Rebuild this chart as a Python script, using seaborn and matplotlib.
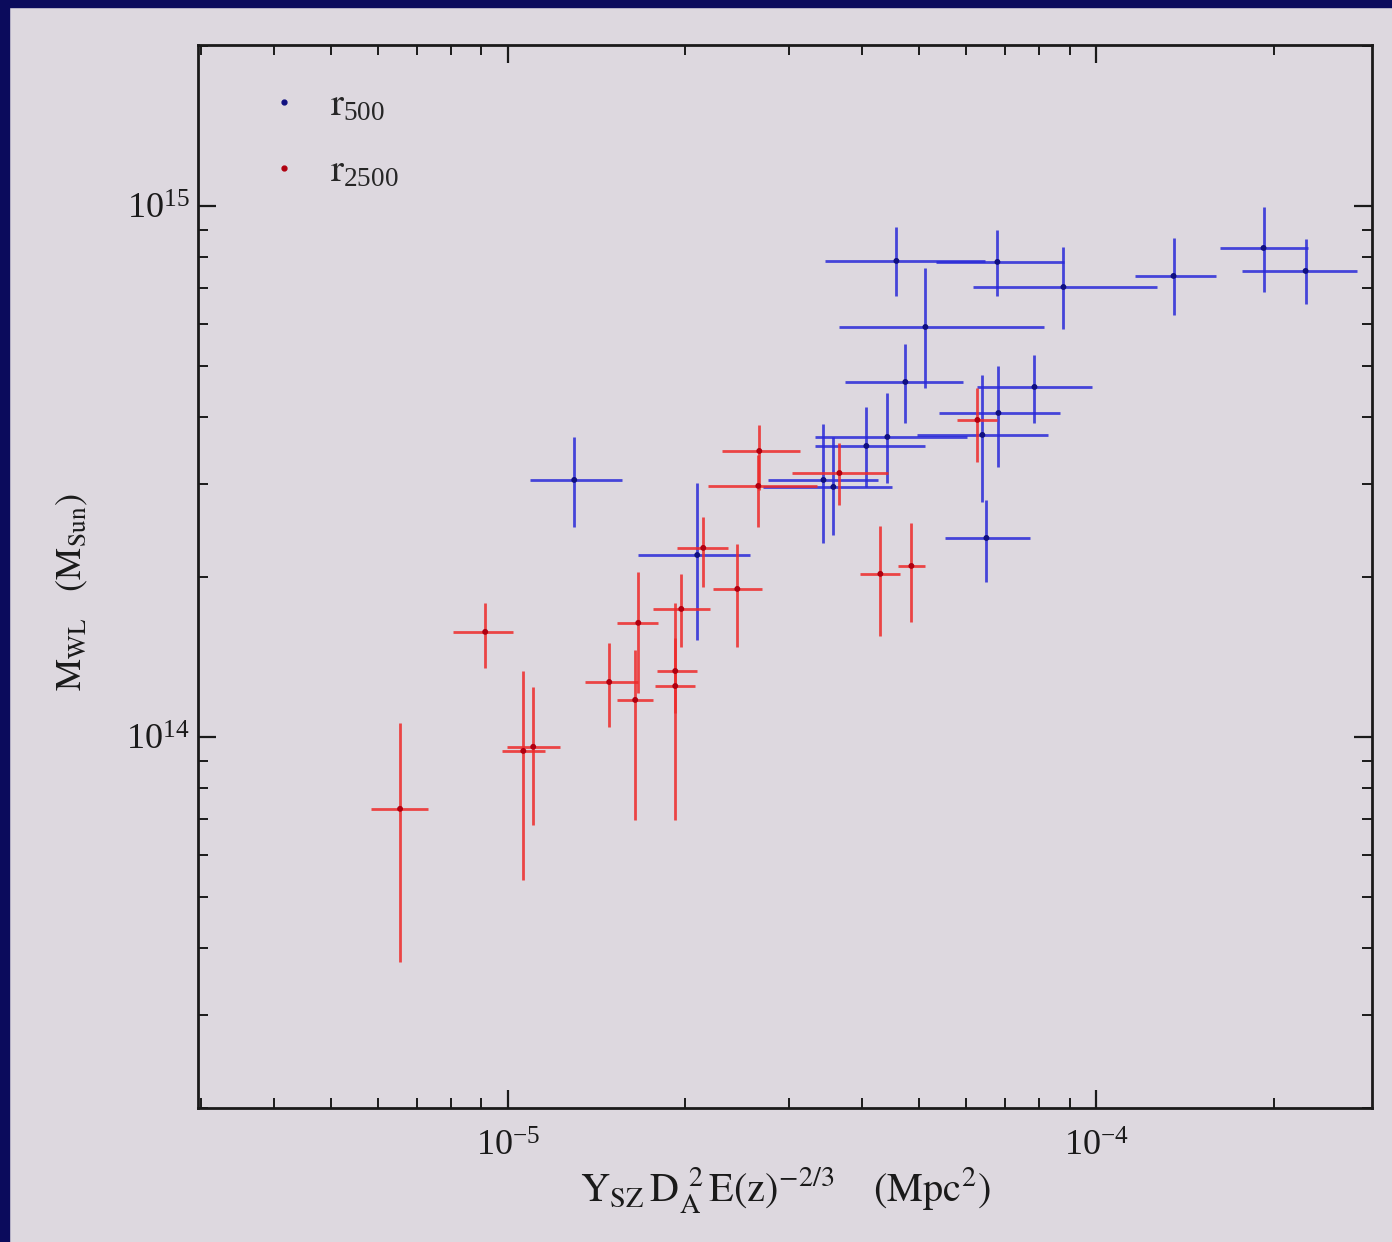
import numpy as np
import pandas as pd
import matplotlib
matplotlib.use("Agg")
import matplotlib.pyplot as plt
from matplotlib.patches import Rectangle
from matplotlib.lines import Line2D
from matplotlib.ticker import LogLocator
import seaborn as sns

X_UNIT = 1e-5   # x values below are in units of 1e-5 Mpc^2
Y_UNIT = 1e14   # y values below are in units of 1e14 M_sun

# ---- r2500 (red) ----
r2500_x    = [0.655, 0.914, 1.061, 1.103, 1.485, 1.664, 1.644, 1.923, 1.923, 1.969, 2.146, 2.452, 2.672, 2.662, 3.656, 4.292, 4.846, 6.276]
r2500_xlo  = [0.585, 0.806, 0.977, 0.996, 1.352, 1.532, 1.532, 1.792, 1.778, 1.764, 1.939, 2.232, 2.312, 2.189, 3.041, 3.968, 4.606, 5.802]
r2500_xhi  = [0.731, 1.020, 1.156, 1.226, 1.664, 1.799, 1.764, 2.096, 2.080, 2.206, 2.367, 2.704, 3.138, 3.354, 4.429, 4.642, 5.119, 6.786]
r2500_y    = [0.732, 1.577, 0.941, 0.958, 1.269, 1.640, 1.174, 1.331, 1.247, 1.742, 2.270, 1.900, 3.456, 2.970, 3.141, 2.028, 2.099, 3.954]
r2500_ylo  = [0.377, 1.349, 0.538, 0.683, 1.044, 1.210, 0.698, 1.110, 0.698, 1.477, 1.917, 1.477, 2.919, 2.486, 2.735, 1.550, 1.647, 3.296]
r2500_yhi  = [1.063, 1.788, 1.331, 1.242, 1.503, 2.045, 1.458, 1.536, 1.788, 2.028, 2.596, 2.309, 3.869, 3.397, 3.578, 2.497, 2.529, 4.543]

# ---- r500 (blue) ----
r500_x     = [1.295, 2.096, 3.435, 3.571, 4.063, 4.411, 4.733, 5.119, 4.570, 6.786, 8.787, 6.398, 6.813, 7.845, 6.500, 13.52, 19.23, 22.67]
r500_xlo   = [1.090, 1.664, 2.768, 2.715, 3.327, 3.327, 3.743, 3.656, 3.461, 5.344, 6.178, 4.961, 5.408, 6.276, 5.537, 11.65, 16.19, 17.65]
r500_xhi   = [1.563, 2.580, 4.258, 4.499, 5.119, 6.034, 5.939, 8.157, 6.474, 8.822, 12.65, 8.286, 8.684, 9.844, 7.723, 15.94, 22.85, 27.69]
r500_y     = [3.048, 2.201, 3.048, 2.957, 3.532, 3.673, 4.662, 5.917, 7.880, 7.846, 7.037, 3.705, 4.075, 4.562, 2.370, 7.383, 8.336, 7.545]
r500_ylo   = [2.486, 1.523, 2.319, 2.401, 2.957, 3.008, 3.903, 4.543, 6.768, 6.768, 5.866, 2.771, 3.224, 3.903, 1.958, 6.233, 6.887, 6.537]
r500_yhi   = [3.673, 3.008, 3.886, 3.673, 4.182, 4.445, 5.497, 7.643, 9.131, 9.012, 8.373, 4.806, 4.997, 5.241, 2.795, 8.706, 9.957, 8.666]

series_labels = [r"$\mathrm{r}_{500}$", r"$\mathrm{r}_{2500}$"]
x_label = r"$\mathrm{Y_{SZ}\,D_A^{\;\,2}\,E(z)^{-2/3}\quad\;(Mpc^2)}$"
y_label = r"$\mathrm{M_{WL}\quad(M_{Sun})}$"

BG = "#ddd8df"
BLUE_BAR, BLUE_PT = "#2a2ad8", "#101080"
RED_BAR, RED_PT = "#ee2a2a", "#b00010"

sns.set_style("ticks")
plt.rcParams["font.family"] = ["Liberation Serif", "DejaVu Serif"]
plt.rcParams["mathtext.fontset"] = "stix"
plt.rcParams["mathtext.default"] = "regular"

def frame(xs, xlo, xhi, ys, ylo, yhi, name):
    d = pd.DataFrame({"x": xs, "xlo": xlo, "xhi": xhi, "y": ys, "ylo": ylo, "yhi": yhi})
    for c in ["x", "xlo", "xhi"]:
        d[c] = d[c] * X_UNIT
    for c in ["y", "ylo", "yhi"]:
        d[c] = d[c] * Y_UNIT
    d["series"] = name
    return d

df = pd.concat([
    frame(r500_x, r500_xlo, r500_xhi, r500_y, r500_ylo, r500_yhi, "r500"),
    frame(r2500_x, r2500_xlo, r2500_xhi, r2500_y, r2500_ylo, r2500_yhi, "r2500"),
], ignore_index=True)

fig = plt.figure(figsize=(13.92, 12.42), dpi=100, facecolor=BG)
ax = fig.add_axes([198/1392, 1 - 1108/1242, (1372-198)/1392, (1108-45)/1242])
ax.set_facecolor(BG)
ax.set_xscale("log")
ax.set_yscale("log")

for name, bc in [("r500", BLUE_BAR), ("r2500", RED_BAR)]:
    d = df[df.series == name]
    ax.errorbar(d.x, d.y,
                xerr=[d.x - d.xlo, d.xhi - d.x],
                yerr=[d.y - d.ylo, d.yhi - d.y],
                fmt="none", ecolor=bc, elinewidth=2.0, capsize=0, alpha=0.85, zorder=2)

sns.scatterplot(data=df, x="x", y="y", hue="series",
                palette={"r500": BLUE_PT, "r2500": RED_PT},
                s=18, linewidth=0, legend=False, ax=ax, zorder=3)

ax.set_xlim(2.97e-6, 2.94e-4)
ax.set_ylim(2.0e13, 2.01e15)

ax.xaxis.set_major_locator(LogLocator(base=10, numticks=10))
ax.yaxis.set_major_locator(LogLocator(base=10, numticks=10))
ax.xaxis.set_minor_locator(LogLocator(base=10, subs=np.arange(2, 10), numticks=20))
ax.yaxis.set_minor_locator(LogLocator(base=10, subs=np.arange(2, 10), numticks=20))
ax.tick_params(which="both", direction="in", top=True, right=True, colors="#1a1a1a")
ax.tick_params(which="major", length=13, width=1.6, labelsize=26)
ax.tick_params(which="minor", length=7, width=1.4)
ax.tick_params(axis="x", which="major", pad=16)
ax.tick_params(axis="y", which="major", pad=6)
for s in ax.spines.values():
    s.set_linewidth(2.0)
    s.set_color("#1a1a1a")

ax.set_xlabel(x_label, fontsize=29, color="#1a1a1a", labelpad=2)
ax.set_ylabel(y_label, fontsize=26, color="#1a1a1a")
ax.yaxis.set_label_coords(-0.092, 0.485)

handles = [Line2D([0], [0], marker="o", linestyle="none", markersize=3.5,
                  markerfacecolor=c, markeredgecolor=c) for c in (BLUE_PT, RED_PT)]
ax.legend(handles, series_labels, loc="upper left", bbox_to_anchor=(0.058, 0.960),
          frameon=False, fontsize=28, handletextpad=0.75, labelspacing=0.75,
          handlelength=0.9, borderpad=0, borderaxespad=0)

# dark navy frame on top and left edges of the slide
fig.patches.append(Rectangle((0, 1 - 7/1242), 1, 7/1242, transform=fig.transFigure,
                             color="#0b0b5c", zorder=10))
fig.patches.append(Rectangle((0, 0), 9/1392, 1, transform=fig.transFigure,
                             color="#0b0b5c", zorder=10))

fig.savefig("out.png", dpi=100, facecolor=BG)
